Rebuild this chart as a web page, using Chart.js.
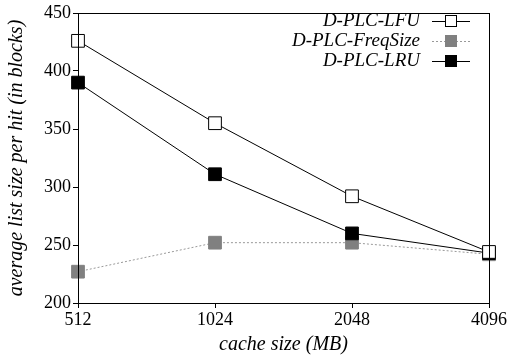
<!DOCTYPE html>
<html>
<head>
<meta charset="utf-8">
<script src="https://cdn.jsdelivr.net/npm/chart.js@4/dist/chart.umd.min.js"></script>
<style>
  html, body { margin: 0; padding: 0; background: #fff; }
  #wrap { width: 513px; height: 358px; }
</style>
</head>
<body>
<div id="wrap"><canvas id="chart"></canvas></div>
<script>
// --- Data ---
const cacheSizes = ['512', '1024', '2048', '4096'];
const lfuValues = [426, 355, 292, 244];
const freqSizeValues = [227, 252, 252, 242];
const lruValues = [390, 311, 260, 243];
const yTicks = [200, 250, 300, 350, 400, 450];

const SERIF = "'Liberation Serif', 'DejaVu Serif', serif";

// frame around plot area + custom legend (label, then line sample with marker)
const framePlugin = {
    id: 'frame',
    afterDraw(chart) {
        const { ctx, chartArea: a } = chart;
        ctx.save();
        ctx.strokeStyle = '#000';
        ctx.lineWidth = 1;
        ctx.strokeRect(a.left + 0.5, a.top + 0.5, a.right - a.left, a.bottom - a.top);

        ctx.font = "italic 19px " + SERIF;
        ctx.textAlign = 'right';
        ctx.textBaseline = 'middle';
        const textRight = 420, lineL = 432, lineR = 470, mark = 451;
        chart.data.datasets.forEach((ds, i) => {
            const y = 21 + i * 20;
            ctx.fillStyle = '#000';
            ctx.fillText(ds.label, textRight, y);
            ctx.strokeStyle = ds.borderColor;
            ctx.lineWidth = 1;
            ctx.setLineDash(ds.borderDash || []);
            ctx.beginPath();
            ctx.moveTo(lineL, y + 0.5);
            ctx.lineTo(lineR, y + 0.5);
            ctx.stroke();
            ctx.setLineDash([]);
            ctx.fillStyle = ds.pointBackgroundColor;
            ctx.fillRect(mark - 6, y - 6, 12, 12);
            ctx.strokeStyle = ds.pointBorderColor;
            ctx.strokeRect(mark - 6 + 0.5, y - 6 + 0.5, 11, 11);
        });
        ctx.restore();
    }
};

new Chart(document.getElementById('chart'), {
    type: 'line',
    data: {
        labels: cacheSizes,
        datasets: [
            {
                label: 'D-PLC-LFU',
                data: lfuValues,
                borderColor: '#000',
                borderWidth: 1,
                pointStyle: 'rect',
                pointRadius: 9,
                pointBackgroundColor: '#fff',
                pointBorderColor: '#000',
                pointBorderWidth: 1,
                order: 1
            },
            {
                label: 'D-PLC-FreqSize',
                data: freqSizeValues,
                borderColor: '#999',
                borderWidth: 1,
                borderDash: [2, 2],
                pointStyle: 'rect',
                pointRadius: 9,
                pointBackgroundColor: '#808080',
                pointBorderColor: '#808080',
                pointBorderWidth: 1,
                order: 3
            },
            {
                label: 'D-PLC-LRU',
                data: lruValues,
                borderColor: '#000',
                borderWidth: 1,
                pointStyle: 'rect',
                pointRadius: 9,
                pointBackgroundColor: '#000',
                pointBorderColor: '#000',
                pointBorderWidth: 1,
                order: 2
            }
        ]
    },
    options: {
        responsive: true,
        maintainAspectRatio: false,
        animation: false,
        layout: { padding: { top: 13, right: 24, left: 0, bottom: 0 } },
        plugins: {
            legend: { display: false },
            tooltip: { enabled: false }
        },
        scales: {
            x: {
                offset: false,
                grid: { drawOnChartArea: false, color: '#000', tickLength: 5 },
                border: { color: '#000' },
                ticks: { color: '#000', font: { family: SERIF, size: 18 }, padding: 1, maxRotation: 0 },
                title: { display: true, text: 'cache size (MB)', color: '#000', font: { family: SERIF, size: 20, style: 'italic' }, padding: { top: 0, bottom: 1 } },
                afterFit: scale => { scale.height = 55; }
            },
            y: {
                min: 200,
                max: 450,
                afterBuildTicks: scale => { scale.ticks = yTicks.map(v => ({ value: v })); },
                grid: { drawOnChartArea: false, color: '#000', tickLength: 5 },
                border: { color: '#000' },
                ticks: { color: '#000', font: { family: SERIF, size: 18 }, padding: 2 },
                title: { display: true, text: 'average list size per hit (in blocks)', color: '#000', font: { family: SERIF, size: 20, style: 'italic' }, padding: { top: 5, bottom: 0 } },
                afterFit: scale => { scale.width = 78; }
            }
        }
    },
    plugins: [framePlugin]
});
</script>
</body>
</html>
